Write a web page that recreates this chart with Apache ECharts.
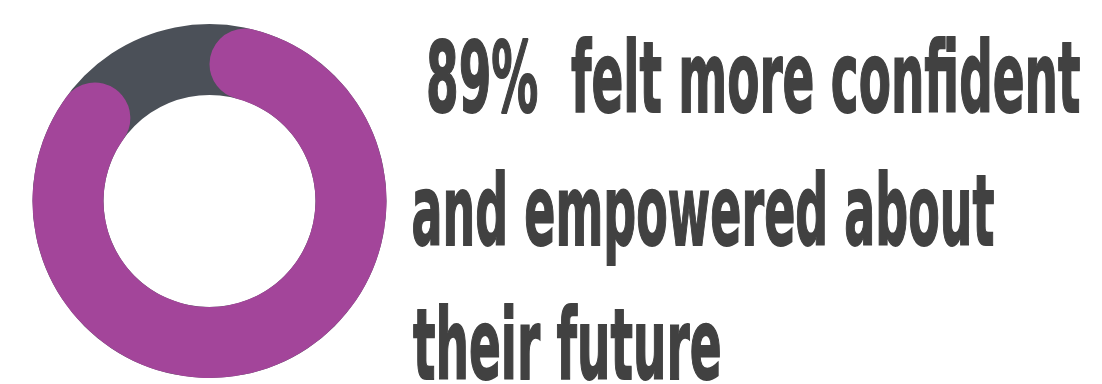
<!DOCTYPE html>
<html><head><meta charset="utf-8">
<script src="https://cdn.jsdelivr.net/npm/echarts@6/dist/echarts.min.js"></script>
<style>html,body{margin:0;padding:0;background:#fff}#c{width:1102px;height:384px}</style>
</head><body><div id="c"></div>
<script>
// ---- data ----
const categories = ['Felt more confident and empowered', 'Other'];
const values = [89, 11];
const textLines = [' 89%  felt more confident', 'and empowered about', 'their future'];

// ---- layout / style ----
const FONT_FAMILY = '"DejaVu Sans"';
const FONT_SIZE = 96;
const FONT_WEIGHT = 'bold';
const TEXT_COLOR = '#414141';
const CAP_HEIGHT = 72;
const STROKE = 1.8;
const lineLayout = [
  { left: 428, right: 1080, baseline: 112 },
  { left: 413, right: 994, baseline: 245 },
  { left: 413, right: 720, baseline: 379 }
];
const fontStr = FONT_WEIGHT + ' ' + FONT_SIZE + 'px ' + FONT_FAMILY;

const ctx = document.createElement('canvas').getContext('2d');
ctx.font = fontStr;
ctx.textBaseline = 'middle';
const mH = ctx.measureText('H');
const hDesc = mH.actualBoundingBoxDescent;
const sy = CAP_HEIGHT / (mH.actualBoundingBoxAscent + mH.actualBoundingBoxDescent);

const graphics = textLines.map(function (t, i) {
  const m = ctx.measureText(t);
  const L = lineLayout[i];
  const ink = m.actualBoundingBoxLeft + m.actualBoundingBoxRight + STROKE;
  const s = (L.right - L.left) / ink;
  return {
    type: 'text',
    x: L.left + (m.actualBoundingBoxLeft + STROKE / 2) * s,
    y: L.baseline - hDesc * sy,
    scaleX: s,
    scaleY: sy,
    silent: true,
    style: {
      text: t, font: fontStr, fill: TEXT_COLOR,
      stroke: TEXT_COLOR, lineWidth: STROKE, lineJoin: 'round',
      textAlign: 'left', textVerticalAlign: 'middle',
      align: 'left', verticalAlign: 'middle'
    }
  };
});

const chart = echarts.init(document.getElementById('c'), null, { renderer: 'canvas' });
chart.setOption({
  animation: false,
  backgroundColor: '#ffffff',
  graphic: graphics,
  series: [
    {
      type: 'pie', radius: [106, 177], center: [209.5, 201], silent: true,
      label: { show: false }, labelLine: { show: false }, emphasis: { disabled: true },
      data: [{ value: 1, name: 'bg', itemStyle: { color: '#4b5058' } }]
    },
    {
      type: 'pie', radius: [106, 177], center: [209.5, 201], startAngle: 90, clockwise: true,
      silent: true, label: { show: false }, labelLine: { show: false }, emphasis: { disabled: true },
      data: categories.map(function (c, i) {
        return {
          name: c, value: values[i],
          itemStyle: i === 0 ? { color: '#a3459a', borderRadius: 36 } : { color: 'rgba(0,0,0,0)' }
        };
      })
    }
  ]
});
</script></body></html>
